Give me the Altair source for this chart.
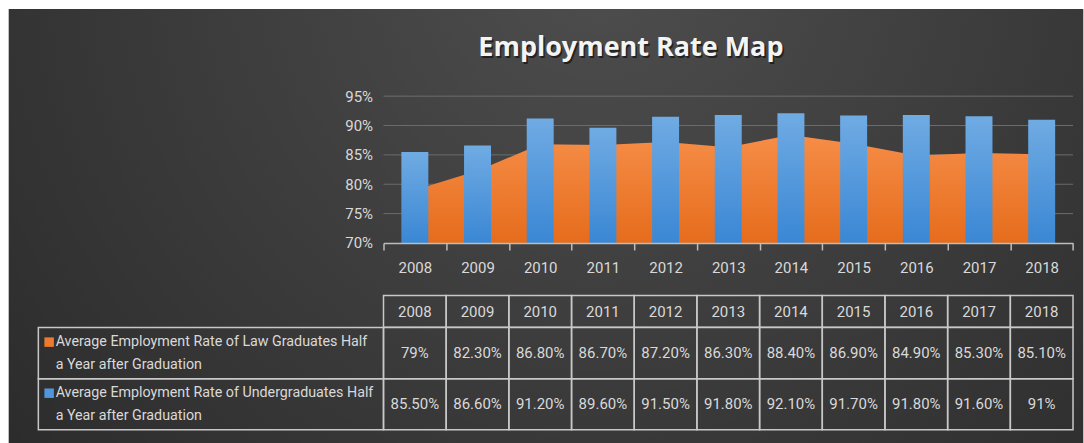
import altair as alt
import pandas as pd

# ---------------- data ----------------
years = ["2008", "2009", "2010", "2011", "2012", "2013", "2014", "2015", "2016", "2017", "2018"]
law_rate = [79.0, 82.3, 86.8, 86.7, 87.2, 86.3, 88.4, 86.9, 84.9, 85.3, 85.1]
undergrad_rate = [85.5, 86.6, 91.2, 89.6, 91.5, 91.8, 92.1, 91.7, 91.8, 91.6, 91.0]
y_ticks = [70, 75, 80, 85, 90, 95]
series_keys = ["law", "ug"]
series_labels = [
    "Average Employment Rate of Law Graduates Half\na Year after Graduation",
    "Average Employment Rate of Undergraduates Half\na Year after Graduation",
]
series_colors = ["#ee7a2e", "#4f96dc"]
title_text = "Employment Rate Map"

# ---------------- layout constants ----------------
CANVAS_W, CANVAS_H = 1084, 443
MARGIN = 8
PLOT_X, PLOT_Y = 383.3, 95.3
W, H = 690.4, 147
GAP = 52.7
HEADER_H = 31.7
BODY_H = 102.3
TABLE_LEFT = 37.7

FONT = "Roboto"
FS = 15
LABEL_FS = 14.3
TXT = "#d9d9d9"
LINE = "#c8c8c8"


def fmt(v):
    return f"{int(v)}%" if float(v).is_integer() else f"{v:.2f}%"


df = pd.DataFrame({"year": years, "law": law_rate, "ug": undergrad_rate})

xscale = alt.Scale(domain=years, paddingInner=0, paddingOuter=0)
yscale = alt.Scale(domain=[y_ticks[0], y_ticks[-1]], nice=False, zero=False)

xaxis = alt.Axis(
    title=None, labelAngle=0, tickBand="extent", tickSize=7,
    tickColor="#bdbdbd", tickWidth=1.5, domainColor="#bdbdbd", domainWidth=1.5,
    labelColor=TXT, labelFont=FONT, labelFontSize=FS,
    labelBaseline="middle", labelPadding=18, grid=False, zindex=1,
)
yaxis = alt.Axis(
    title=None, values=y_ticks, ticks=False, tickSize=0, domain=False, grid=False,
    labelExpr="datum.value + '%'", labelPadding=11,
    labelColor=TXT, labelFont=FONT, labelFontSize=FS, zindex=1,
)

bg_fill = {
    "gradient": "radial",
    "x1": 0.55, "y1": 0.25, "r1": 0,
    "x2": 0.55, "y2": 0.25, "r2": 0.75,
    "stops": [
        {"offset": 0, "color": "#4e4e4e"},
        {"offset": 1, "color": "#2a2a2a"},
    ],
}
bar_fill = {
    "gradient": "linear", "x1": 0, "y1": 0, "x2": 0, "y2": 1,
    "stops": [{"offset": 0, "color": "#70abe3"}, {"offset": 1, "color": "#3a87d4"}],
}
area_fill = {
    "gradient": "linear", "x1": 0, "y1": 0, "x2": 0, "y2": 1,
    "stops": [{"offset": 0, "color": "#f68d47"}, {"offset": 1, "color": "#e56c1c"}],
}

one = pd.DataFrame({"k": [0]})

background = alt.Chart(one).mark_rect(fill=bg_fill).encode(
    x=alt.value(MARGIN - PLOT_X),
    x2=alt.value(CANVAS_W - PLOT_X),
    y=alt.value(MARGIN - PLOT_Y),
    y2=alt.value(CANVAS_H - PLOT_Y),
)

grid = alt.Chart(pd.DataFrame({"t": y_ticks[1:]})).mark_rule(color="#6c6c6c", strokeWidth=1).encode(
    y=alt.Y("t:Q", scale=yscale, axis=yaxis),
    x=alt.value(0),
    x2=alt.value(W),
)

area = alt.Chart(df).mark_area(fill=area_fill).encode(
    x=alt.X("year:N", scale=xscale, sort=years, axis=xaxis),
    y=alt.Y("law:Q", scale=yscale, axis=yaxis),
    y2=alt.datum(y_ticks[0]),
)

bars = alt.Chart(df).mark_bar(size=27, fill=bar_fill).encode(
    x=alt.X("year:N", scale=xscale, sort=years, axis=xaxis),
    y=alt.Y("ug:Q", scale=yscale, axis=yaxis),
    y2=alt.datum(y_ticks[0]),
)

title_shadow = alt.Chart(one).mark_text(
    text=title_text, font="Open Sans", fontSize=27, fontWeight="bold",
    color="#111111", opacity=0.7, align="center", baseline="middle",
).encode(x=alt.value(631 - PLOT_X + 1.5), y=alt.value(47 - PLOT_Y + 2))

title = alt.Chart(one).mark_text(
    text=title_text, font="Open Sans", fontSize=27, fontWeight="bold",
    color="#f4f4f4", align="center", baseline="middle",
).encode(x=alt.value(631 - PLOT_X), y=alt.value(47 - PLOT_Y))

top = alt.layer(background, grid, area, bars, title_shadow, title).properties(width=W, height=H)

# ---------------- table header ----------------
hdr = pd.DataFrame({"year": years})
hx = alt.X("year:N", scale=xscale, sort=years, axis=None)
header_cells = alt.Chart(hdr).mark_rect(fillOpacity=0, stroke=LINE, strokeWidth=1.5).encode(
    x=hx, y=alt.value(0), y2=alt.value(HEADER_H)
)
header_text = alt.Chart(hdr).mark_text(font=FONT, fontSize=FS, color=TXT, baseline="middle").encode(
    x=hx, y=alt.value(HEADER_H / 2 + 0.5), text="year:N"
)
header = alt.layer(header_cells, header_text).properties(width=W, height=HEADER_H)

# ---------------- table body ----------------
rows = []
for key, vals in zip(series_keys, [law_rate, undergrad_rate]):
    for yr, v in zip(years, vals):
        rows.append({"year": yr, "series": key, "txt": fmt(v)})
body_df = pd.DataFrame(rows)
lab_df = pd.DataFrame({"series": series_keys, "label": series_labels})

bx = alt.X("year:N", scale=xscale, sort=years, axis=None)
by = alt.Y("series:N", scale=alt.Scale(domain=series_keys, paddingInner=0, paddingOuter=0), axis=None)

body_cells = alt.Chart(body_df).mark_rect(fillOpacity=0, stroke=LINE, strokeWidth=1.5).encode(x=bx, y=by)
body_text = alt.Chart(body_df).mark_text(font=FONT, fontSize=FS, color=TXT, baseline="middle").encode(
    x=bx, y=by, text="txt:N"
)
label_cells = alt.Chart(lab_df).mark_rect(fillOpacity=0, stroke=LINE, strokeWidth=1.5).encode(
    x=alt.value(TABLE_LEFT - PLOT_X), x2=alt.value(0), y=by
)
label_text = alt.Chart(lab_df).mark_text(
    font=FONT, fontSize=LABEL_FS, color=TXT, align="left", baseline="middle",
    lineBreak="\n", lineHeight=23, dy=-10.7,
).encode(x=alt.value(55 - PLOT_X), y=by, text="label:N")
swatch = alt.Chart(lab_df).mark_square(size=90, opacity=1, filled=True).encode(
    x=alt.value(48.5 - PLOT_X),
    y=by,
    yOffset=alt.value(BODY_H / 4 - 11),
    color=alt.Color("series:N", scale=alt.Scale(domain=series_keys, range=series_colors), legend=None),
)
body = alt.layer(body_cells, body_text, label_cells, label_text, swatch).properties(width=W, height=BODY_H)

table = alt.vconcat(header, body, spacing=0, bounds="flush")

chart = alt.vconcat(top, table, spacing=GAP, bounds="flush").properties(
    padding={"left": MARGIN, "top": MARGIN, "right": 0, "bottom": 0},
    background="white",
    autosize=alt.AutoSizeParams(type="pad"),
).configure_view(strokeWidth=0)

chart.save("out.html", embed_options={"renderer": "svg", "actions": False})
